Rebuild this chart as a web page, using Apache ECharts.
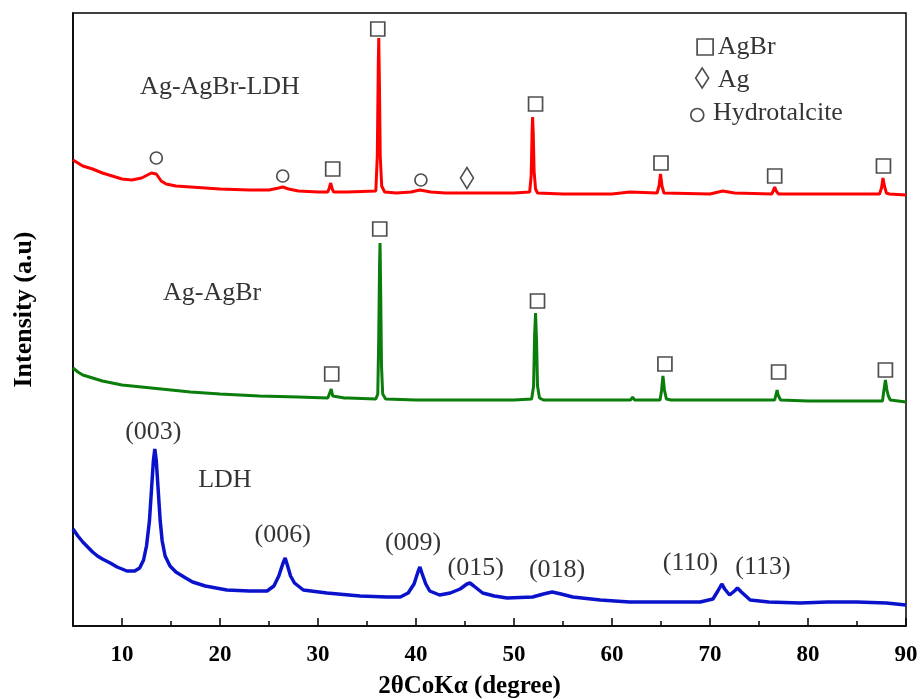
<!DOCTYPE html>
<html>
<head>
<meta charset="utf-8">
<script src="https://cdn.jsdelivr.net/npm/echarts@6/dist/echarts.min.js"></script>
<style>
html,body{margin:0;padding:0;background:#fff;}
#chart{width:921px;height:699px;}
</style>
</head>
<body>
<div id="chart"></div>
<script>
// 2θ (degree) vs intensity (a.u., stacked offsets)
const agAgBrLdh = [[5.0,466],[5.5,463],[6,460],[7,457],[8,453],[9,450],[10,447],[11,446],[12,448],[12.6,451],[13.0,453],[13.2,454],[13.5,452],[14.0,445],[14.5,442],[15.5,440],[17,439],[20,437],[23,436],[25,436],[26.0,438],[26.4,439],[27,437],[28,435],[30,434],[31.0,434],[31.15,438],[31.3,443],[31.45,437],[31.6,434],[32.6,434],[32.8,436],[33.0,434],[35.9,435],[36.05,470],[36.15,560],[36.2,588],[36.27,540],[36.35,470],[36.5,440],[36.8,434],[38,433],[39.5,434],[40.4,436],[41.5,434],[43,433],[45,433],[47,433],[50,433],[51.6,434],[51.75,450],[51.85,495],[51.9,509],[51.97,490],[52.05,455],[52.2,437],[52.4,433],[55,432],[60,432],[61.8,434],[62.0,432],[64.6,433],[64.8,440],[64.95,452],[65.1,440],[65.3,433],[70,432],[71.3,435],[72.5,433],[76.3,432],[76.5,436],[76.6,439],[76.75,435],[77.0,432],[80,432],[87.3,432],[87.5,438],[87.65,448],[87.8,440],[88.0,433],[88.3,432],[90,431]];
const agAgBr = [[5.0,258],[5.5,254],[6,251],[7,248],[8,245],[9,243],[10,241],[12,239],[14,237],[17,234],[20,232],[24,230],[28,229],[31.0,228],[31.2,230],[31.35,237],[31.5,230],[31.7,228],[32.7,228],[32.9,230],[33.1,228],[35.9,227],[36.1,232],[36.2,290],[36.28,360],[36.33,383],[36.4,330],[36.48,260],[36.6,232],[36.9,227],[40,226],[45,226],[50,226],[51.8,227],[52.0,240],[52.1,290],[52.2,313],[52.3,285],[52.4,240],[52.6,228],[53,226],[58,226],[61.9,226],[62.1,229],[62.3,226],[64.9,226],[65.05,235],[65.2,250],[65.35,236],[65.55,227],[66,226],[70,226],[76.6,226],[76.75,232],[76.85,236],[76.95,231],[77.2,226],[80,225],[87.6,225],[87.75,236],[87.9,246],[88.05,236],[88.2,230],[88.4,226],[90,224]];
const ldh = [[5.0,97],[5.5,90],[6,84],[6.5,79],[7,74],[7.5,70],[8,67],[8.8,63],[9.5,59],[10.5,55],[11.3,55],[11.8,58],[12.2,66],[12.5,80],[12.8,105],[13.0,135],[13.2,165],[13.35,177],[13.5,165],[13.7,135],[13.9,105],[14.1,85],[14.4,70],[14.9,60],[15.5,54],[16.5,48],[17.2,44],[18.5,40],[20.7,36],[23,35],[24.8,35],[25.5,40],[26.0,50],[26.4,62],[26.65,68],[26.9,60],[27.2,50],[27.6,43],[28.5,36],[30.9,33],[34.3,30],[37,29],[38.4,29],[39.2,33],[39.8,42],[40.2,54],[40.4,59],[40.6,53],[41.0,42],[41.4,35],[42.4,31],[43.5,33],[44.5,37],[45.2,42],[45.5,43],[45.9,40],[46.8,33],[48,30],[49.3,28],[51.9,29],[53.0,32],[53.9,34],[54.8,32],[56.0,29],[58.8,26],[61.8,24],[65,24],[69.0,24],[70.3,27],[70.8,35],[71.2,42],[71.5,37],[72.0,31],[72.5,35],[72.8,38],[73.2,34],[74.1,26],[76,24],[79.2,23],[82,24],[85,24],[88,23],[90,21]];

// phase markers (□ AgBr, ◇ Ag, ○ hydrotalcite)
const agbrMarks = [[31.5,457],[36.1,597],[52.2,522],[65.0,463],[76.6,450],[87.7,460],[31.4,252],[36.3,397],[52.4,325],[65.4,262],[77.0,254],[87.9,256]];
const agMarks = [[45.2,448]];
const hydroMarks = [[13.5,468],[26.4,450],[40.5,446]];

// curve names and (hkl) reflections
const textLabels = [[20.0,539,'Ag-AgBr-LDH'],[19.2,333,'Ag-AgBr'],[20.5,146,'LDH'],[13.2,194,'(003)'],[26.4,91,'(006)'],[39.7,83,'(009)'],[46.1,58,'(015)'],[54.4,56,'(018)'],[68.0,63,'(110)'],[75.4,59,'(113)']];

// key (top right)
const keySquare = [[69.5,579]];
const keyDiamond = [[69.2,548]];
const keyCircle = [[68.7,511]];
const keyText = [[70.8,579,'AgBr'],[70.8,546,'Ag'],[70.3,513,'Hydrotalcite']];

const majorTicks = [10,20,30,40,50,60,70,80,90];
const minorTicks = [15,25,35,45,55,65,75,85];

const FONT = 'Liberation Serif';
const chart = echarts.init(document.getElementById('chart'), null, {renderer:'canvas'});

function textSeries(arr, align){
  return {
    type:'scatter', symbolSize:0, silent:true, z:10,
    data: arr.map(d => ({value:[d[0], d[1]], name:d[2]})),
    label:{show:true, position: align==='left' ? 'right' : 'inside', distance:0,
      formatter: p => p.name, fontFamily:FONT, fontSize:26, color:'#000'}
  };
}
function markSeries(arr, symbol, size){
  return {
    type:'scatter', symbol:symbol, symbolSize:size, silent:true, z:9,
    data: arr,
    itemStyle:{color:'rgba(255,255,255,0)', borderColor:'#222', borderWidth:1.7}
  };
}

chart.setOption({
  animation:false,
  backgroundColor:'#fff',
  grid:{left:73, right:15, top:13, bottom:73, show:true, borderColor:'#000', borderWidth:1.5,
        containLabel:false, outerBoundsMode:'none'},
  xAxis:[{
    type:'value', min:5, max:90, position:'bottom',
    axisLine:{show:true, lineStyle:{color:'#000', width:1.5}},
    axisTick:{show:true, inside:true, length:8, customValues:majorTicks, lineStyle:{color:'#000', width:1.5}},
    axisLabel:{show:true, customValues:majorTicks, margin:18, fontFamily:FONT, fontWeight:'bold', fontSize:23, color:'#000'},
    splitLine:{show:false},
    name:'2θCoKα (degree)', nameLocation:'middle', nameGap:48,
    nameTextStyle:{fontFamily:FONT, fontWeight:'bold', fontSize:25, color:'#000', padding:[0,40,0,0]}
  },{
    type:'value', min:5, max:90, position:'bottom',
    axisLine:{show:false},
    axisTick:{show:true, inside:true, length:5, customValues:minorTicks, lineStyle:{color:'#000', width:1.5}},
    axisLabel:{show:false}, splitLine:{show:false}
  }],
  yAxis:{
    type:'value', min:0, max:613,
    axisLine:{show:true, lineStyle:{color:'#000', width:1.5}},
    axisTick:{show:false}, axisLabel:{show:false}, splitLine:{show:false},
    name:'Intensity (a.u)', nameLocation:'middle', nameGap:36, nameRotate:90,
    nameTextStyle:{fontFamily:FONT, fontWeight:'bold', fontSize:26, color:'#000', padding:[0,0,0,20]}
  },
  series:[
    {type:'line', data:ldh, showSymbol:false, lineStyle:{color:'#0a12cc', width:3.5}, z:3},
    {type:'line', data:agAgBr, showSymbol:false, lineStyle:{color:'#0a7d0a', width:3}, z:3},
    {type:'line', data:agAgBrLdh, showSymbol:false, lineStyle:{color:'#ff0000', width:3}, z:3},
    markSeries(agbrMarks, 'rect', 14),
    markSeries(agMarks, 'diamond', [13,21]),
    markSeries(hydroMarks, 'circle', 12),
    markSeries(keySquare, 'rect', 16),
    markSeries(keyDiamond, 'diamond', [13,20]),
    markSeries(keyCircle, 'circle', 13),
    textSeries(textLabels, 'center'),
    textSeries(keyText, 'left')
  ]
});
</script>
</body>
</html>
